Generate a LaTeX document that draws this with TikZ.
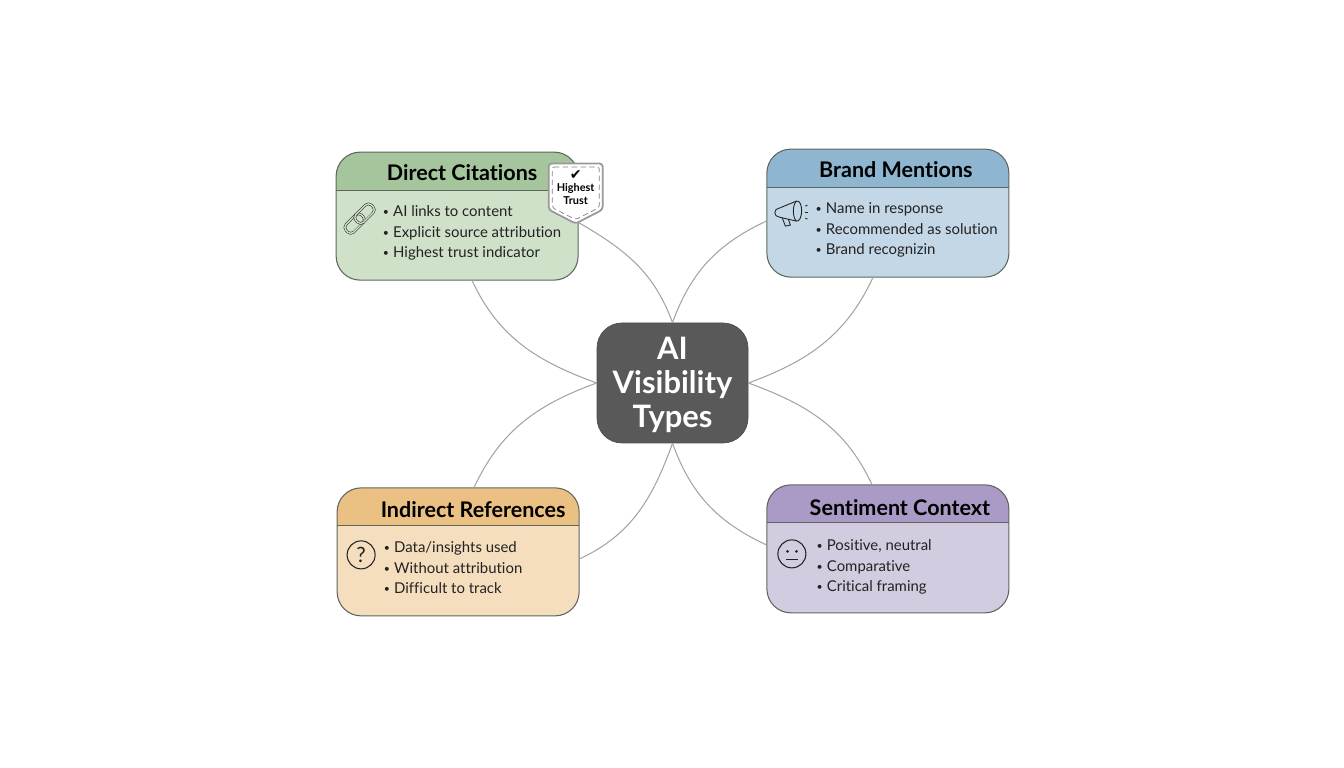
\documentclass[tikz,border=0pt]{standalone}
\usepackage{xcolor}
\usepackage{fontspec}
\setmainfont{Lato}[Ligatures=NoCommon]
\newfontfamily\symbolfont{DejaVu Sans}
\usetikzlibrary{positioning, calc}
\definecolor{greenhead}{HTML}{A5C59C}
\definecolor{greenbody}{HTML}{D0E1CA}
\definecolor{bluehead}{HTML}{8FB6D1}
\definecolor{bluebody}{HTML}{C3D7E7}
\definecolor{orangehead}{HTML}{EBC183}
\definecolor{orangebody}{HTML}{F5DEBE}
\definecolor{purplehead}{HTML}{A99BC5}
\definecolor{purplebody}{HTML}{D3CBE0}
\definecolor{hubcolor}{HTML}{595959}
\definecolor{edgecolor}{HTML}{5F6660}
\definecolor{linkcolor}{HTML}{A3A3A3}
\definecolor{inkcolor}{HTML}{222222}
\newcommand{\itemdot}{\makebox[5.8pt][l]{\raisebox{0.6pt}{\fontsize{6}{6}\selectfont\textbullet}}}

\begin{document}
\begin{tikzpicture}[
    card/.style n args={2}{rectangle, rounded corners=0.48cm, minimum width=4.84cm,
                minimum height=2.56cm, draw=edgecolor, fill=#2, line width=0.6pt,
                path picture={\fill[#1, sharp corners] (path picture bounding box.north west) rectangle
                    ([yshift=-0.76cm]path picture bounding box.north east);
                    \draw[edgecolor, line width=0.6pt, sharp corners] ([yshift=-0.76cm]path picture bounding box.north west) --
                    ([yshift=-0.76cm]path picture bounding box.north east);}},
    cardtitle/.style={font=\fontsize{12.25}{15}\selectfont\bfseries, text=black, inner sep=0pt, minimum height=0.76cm},
    bullets/.style={font=\fontsize{8.5}{11.6}\selectfont, align=left, inner sep=0pt, text=inkcolor},
    connector/.style={color=linkcolor, line width=0.6pt},
    iconline/.style={draw=inkcolor, line width=0.5pt},
    iconcircle/.style={circle, draw=inkcolor, line width=0.6pt, minimum size=0.56cm, inner sep=0pt}
]
\useasboundingbox (0,0) rectangle (26.88,15.36);

% Hub
\node[rectangle, rounded corners=0.5cm, minimum width=3.02cm, minimum height=2.4cm, draw=hubcolor!85!black,
      fill=hubcolor, text=white, align=center, inner sep=0pt,
      font=\fontsize{17.6}{19.2}\selectfont\bfseries] (hub) at (13.45,7.70) {\rule{0pt}{15pt}AI\\Visibility\\Types};

% Cards
\node[card={greenhead}{greenbody}, above left=0.84cm and 0.36cm of hub] (direct) {};
\node[card={bluehead}{bluebody}, above right=0.90cm and 0.36cm of hub] (brand) {};
\node[card={orangehead}{orangebody}, below left=0.88cm and 0.34cm of hub] (indirect) {};
\node[card={purplehead}{purplebody}, below right=0.82cm and 0.36cm of hub] (sentiment) {};

% Titles
\node[cardtitle, below=0.04cm of direct.north, xshift=0.10cm] (directtitle) {Direct Citations};
\node[cardtitle, below=0.04cm of brand.north, xshift=0.16cm] (brandtitle) {Brand Mentions};
\node[cardtitle, below=0.06cm of indirect.north, xshift=0.30cm] (indirecttitle) {Indirect References};
\node[cardtitle, below=0.08cm of sentiment.north, xshift=0.24cm] (sentimenttitle) {Sentiment Context};

% Bullets
\node[bullets, below right=1.08cm and 0.94cm of direct.north west] (directlist)
    {\itemdot AI links to content\\\itemdot Explicit source attribution\\\itemdot Highest trust indicator};
\node[bullets, below right=1.08cm and 0.98cm of brand.north west] (brandlist)
    {\itemdot Name in response\\\itemdot Recommended as solution\\\itemdot Brand recognizin};
\node[bullets, below right=1.08cm and 0.94cm of indirect.north west] (indirectlist)
    {\itemdot Data/insights used\\\itemdot Without attribution\\\itemdot Difficult to track};
\node[bullets, below right=1.10cm and 1.00cm of sentiment.north west] (sentimentlist)
    {\itemdot Positive, neutral\\\itemdot Comparative\\\itemdot Critical framing};

% Connectors
\draw[connector] ([yshift=-0.13cm]direct.east) to[out=-30, in=110] (hub.north);
\draw[connector] ([xshift=0.30cm]direct.south) to[out=-65, in=160] (hub.west);
\draw[connector] ([yshift=-0.16cm]brand.west) to[out=205, in=70] (hub.north);
\draw[connector] ([xshift=-0.30cm]brand.south) to[out=245, in=20] (hub.east);
\draw[connector] ([xshift=0.32cm]indirect.north) to[out=65, in=200] (hub.west);
\draw[connector] ([yshift=-0.14cm]indirect.east) to[out=25, in=250] (hub.south);
\draw[connector] ([xshift=-0.32cm]sentiment.north) to[out=115, in=-20] (hub.east);
\draw[connector] ([yshift=0.08cm]sentiment.west) to[out=155, in=-70] (hub.south);

% Badge
\coordinate (badgetop) at ([xshift=-0.06cm,yshift=-0.24cm]direct.north east);
\draw[fill=white, draw=gray!80, line width=1pt, rounded corners=0.06cm]
    ([xshift=-0.54cm]badgetop) -- ([xshift=0.54cm]badgetop) -- ([xshift=0.54cm,yshift=-0.92cm]badgetop)
    -- ([yshift=-1.20cm]badgetop) -- ([xshift=-0.54cm,yshift=-0.92cm]badgetop) -- cycle;
\draw[draw=gray, line width=0.4pt, densely dashed, rounded corners=0.04cm]
    ([xshift=-0.47cm,yshift=-0.07cm]badgetop) -- ([xshift=0.47cm,yshift=-0.07cm]badgetop) -- ([xshift=0.47cm,yshift=-0.88cm]badgetop)
    -- ([yshift=-1.12cm]badgetop) -- ([xshift=-0.47cm,yshift=-0.88cm]badgetop) -- cycle;
\node[font=\fontsize{6.2}{6.9}\selectfont\bfseries, align=center, inner sep=0pt, text=black,
      below=0.14cm of badgetop] (badge) {{\symbolfont\fontsize{8}{8}\selectfont ✔}\\Highest\\Trust};

% Chain icon
\begin{scope}[shift={([xshift=0.48cm,yshift=-0.05cm]direct.west)}, rotate=45]
    \draw[draw=inkcolor, double=greenbody, double distance=0.8pt, line width=0.3pt, rounded corners=0.09cm]
        (-0.36,-0.11) rectangle (0.08,0.11);
    \draw[draw=inkcolor, double=greenbody, double distance=0.8pt, line width=0.3pt, rounded corners=0.09cm]
        (-0.08,-0.11) rectangle (0.36,0.11);
\end{scope}

% Megaphone icon
\begin{scope}[shift={(brand.west)}, x=0.02cm, y=-0.02cm]
    \draw[iconline, line join=round] (13,-5) -- (30,-12) .. controls (37,-14) and (37,9) .. (30,8) -- (13,4)
        .. controls (7,4) and (7,-5) .. (13,-5);
    \draw[iconline] (30,-12) .. controls (26,-8) and (26,4) .. (30,8);
    \draw[iconline, line join=round] (16,5) -- (19,13) -- (24,12) -- (22,6);
    \draw[iconline] (39,-7) -- (41,-8);
    \draw[iconline] (39,-1) -- (42,-1);
    \draw[iconline] (39,5) -- (41,6);
\end{scope}

% Question icon
\node[iconcircle, right=0.20cm of indirect.west, yshift=-0.06cm, text=inkcolor,
      font=\fontsize{12}{13}\selectfont] (question) {?};

% Face icon
\node[iconcircle, right=0.22cm of sentiment.west, yshift=-0.10cm] (face) {};
\fill[inkcolor] ([xshift=-0.09cm,yshift=0.05cm]face.center) circle (0.03cm);
\fill[inkcolor] ([xshift=0.09cm,yshift=0.05cm]face.center) circle (0.03cm);
\draw[iconline] ([xshift=-0.12cm,yshift=-0.12cm]face.center) -- ([xshift=0.12cm,yshift=-0.12cm]face.center);

\end{tikzpicture}
\end{document}
